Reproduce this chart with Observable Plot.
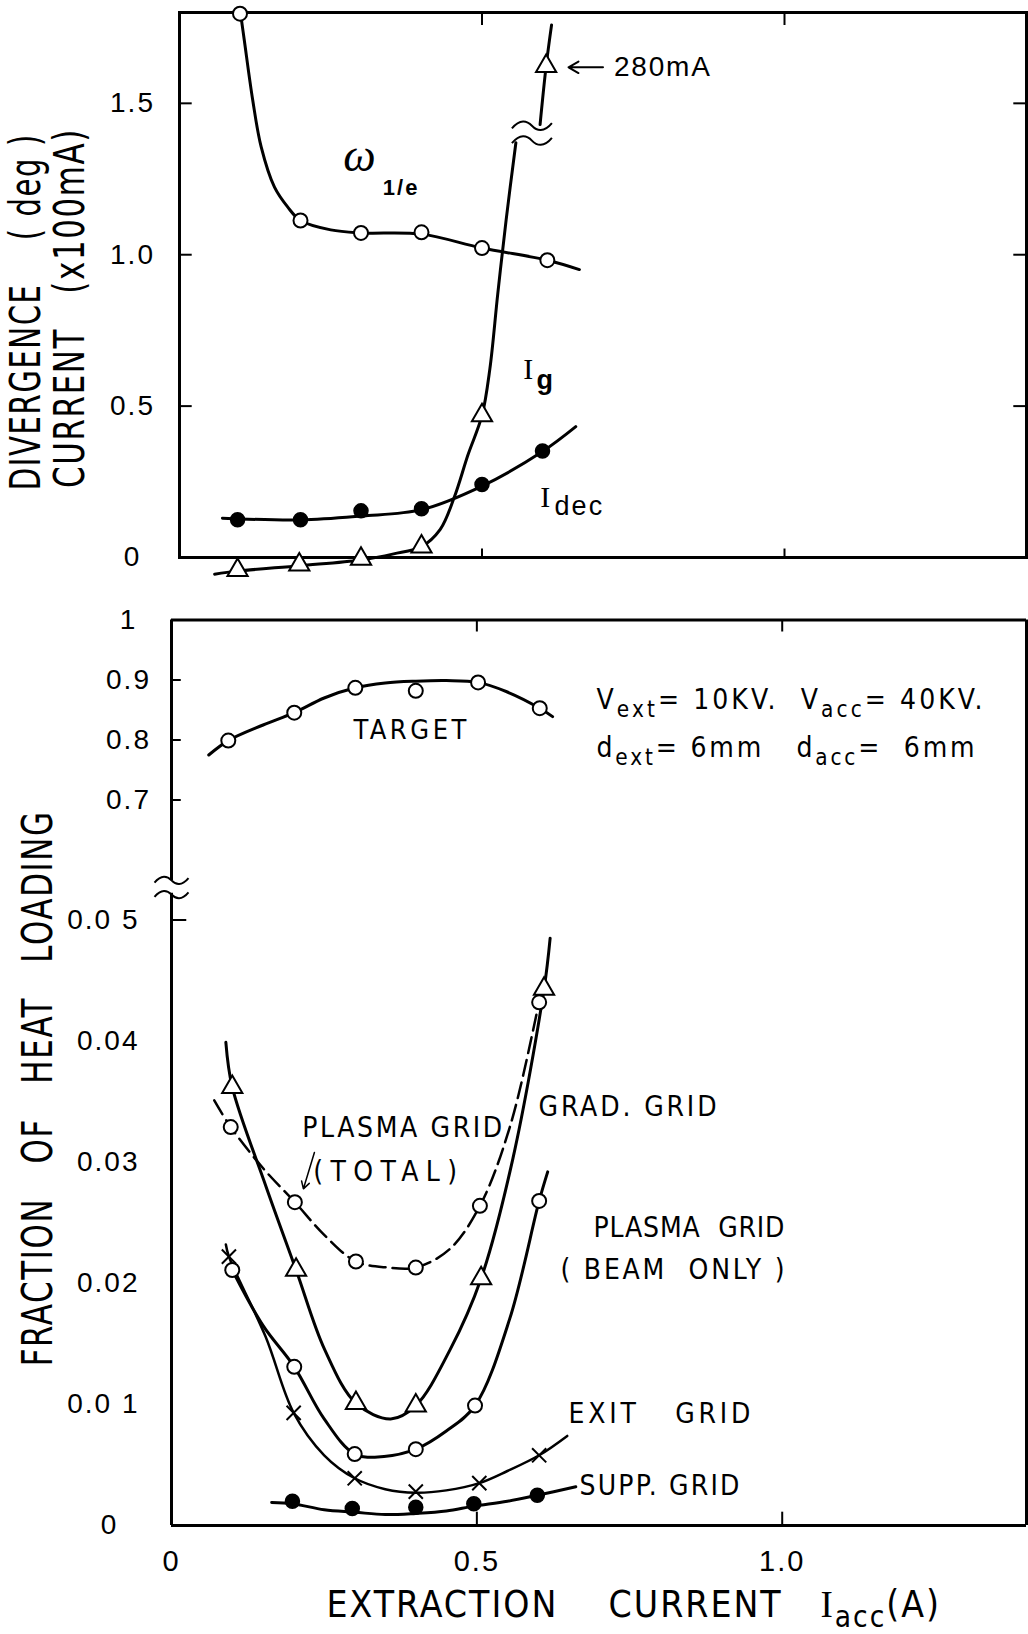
<!DOCTYPE html>
<html><head><meta charset="utf-8">
<script src="https://cdn.jsdelivr.net/npm/d3@7"></script>
<script src="https://cdn.jsdelivr.net/npm/@observablehq/plot@0.6"></script>
<style>
html,body{margin:0;padding:0;background:#fff;}
#wrap{position:relative;width:1028px;height:1634px;overflow:hidden;background:#fff;}
#top{position:absolute;left:0;top:0;}
#bot{position:absolute;left:0;top:600px;}
svg text{white-space:pre;}
</style></head><body>
<div id="wrap"><div id="top"></div><div id="bot"></div></div>
<script>
// ---------- axes / ticks ----------
const xTicks = [0, 0.5, 1.0];
const xTickLabels = ["0", "0.5", "1.0"];
const topYTicks = [0, 0.5, 1.0, 1.5];
const topYTickLabels = ["0", "0.5", "1.0", "1.5"];
const upperTicks = [1.0, 0.9, 0.8, 0.7];
const upperTickLabels = ["1", "0.9", "0.8", "0.7"];
const lowerTicks = [0.05, 0.04, 0.03, 0.02, 0.01];
const lowerTickLabels = ["0.0 5", "0.04", "0.03", "0.02", "0.0 1"];

// ---------- top panel: divergence / currents ----------
const omegaPts = [[0.10,1.796],[0.20,1.113],[0.30,1.072],[0.40,1.074],[0.50,1.022],[0.608,0.982]];
const omegaCurve = [[0.101,1.796],[0.107,1.71],[0.121,1.511],[0.135,1.356],[0.157,1.223],[0.179,1.157],[0.20,1.113],[0.25,1.082],[0.30,1.072],[0.40,1.068],[0.50,1.022],[0.608,0.982],[0.661,0.951]];
const igPts = [[0.096,-0.042],[0.198,-0.024],[0.30,-0.005],[0.40,0.036],[0.50,0.469],[0.606,1.623]];
const igCurveLow = [[0.058,-0.055],[0.096,-0.045],[0.198,-0.027],[0.30,-0.008],[0.354,0.012],[0.40,0.036],[0.431,0.093],[0.454,0.198],[0.477,0.34],[0.50,0.469],[0.513,0.623],[0.526,0.87],[0.54,1.117],[0.556,1.37]];
const igCurveHigh = [[0.596,1.43],[0.606,1.623],[0.615,1.759]];
const igBreak = [[0.5825,1.426],[0.5825,1.377]];
const idecPts = [[0.096,0.125],[0.20,0.125],[0.30,0.154],[0.40,0.161],[0.50,0.241],[0.60,0.352]];
const idecCurve = [[0.071,0.13],[0.20,0.124],[0.30,0.137],[0.40,0.158],[0.50,0.236],[0.60,0.35],[0.655,0.432]];

// ---------- bottom panel: fraction of heat loading ----------
const axisBreak = [[0,0.566],[0,0.0521]];
const targetPts = [[0.093,0.799],[0.201,0.8455],[0.301,0.887],[0.40,0.882],[0.502,0.896],[0.603,0.853]];
const targetCurve = [[0.061,0.775],[0.093,0.799],[0.15,0.825],[0.201,0.8455],[0.25,0.87],[0.301,0.887],[0.35,0.895],[0.40,0.898],[0.45,0.899],[0.502,0.896],[0.55,0.88],[0.603,0.853],[0.624,0.839]];
const gradPts = [[0.0995,0.0362],[0.204,0.0211],[0.302,0.0101],[0.40,0.0099],[0.507,0.0204],[0.61,0.0443]];
const gradCurve = [[0.089,0.0399],[0.0995,0.0362],[0.154,0.0281],[0.204,0.0211],[0.251,0.0145],[0.302,0.0101],[0.359,0.0088],[0.40,0.0099],[0.456,0.0145],[0.507,0.0204],[0.559,0.0303],[0.61,0.0443],[0.62,0.0485]];
const plasmaTotPts = [[0.097,0.0329],[0.202,0.0267],[0.302,0.0218],[0.40,0.0213],[0.505,0.0264],[0.602,0.0432]];
const plasmaTotCurve = [[0.07,0.0351],[0.097,0.0329],[0.15,0.0295],[0.202,0.0267],[0.25,0.024],[0.302,0.0218],[0.354,0.0213],[0.40,0.0213],[0.455,0.0228],[0.505,0.0264],[0.554,0.0329],[0.602,0.0432],[0.61,0.045]];
const plasmaBeamPts = [[0.0995,0.0211],[0.201,0.0131],[0.30,0.0059],[0.40,0.0063],[0.497,0.0099],[0.602,0.0268]];
const plasmaBeamCurve = [[0.0995,0.0211],[0.15,0.0165],[0.201,0.0131],[0.25,0.0088],[0.30,0.0059],[0.348,0.0057],[0.40,0.0063],[0.45,0.0078],[0.497,0.0099],[0.554,0.0171],[0.602,0.0268],[0.616,0.0292]];
const exitPts = [[0.094,0.0222],[0.20,0.0093],[0.30,0.0039],[0.40,0.0028],[0.504,0.0035],[0.602,0.0058]];
const exitCurve = [[0.089,0.0232],[0.094,0.0222],[0.154,0.0156],[0.20,0.0093],[0.25,0.0058],[0.30,0.0039],[0.35,0.003],[0.40,0.0027],[0.45,0.0029],[0.504,0.0035],[0.55,0.0045],[0.602,0.0058],[0.648,0.0074]];
const suppPts = [[0.198,0.0020],[0.296,0.0014],[0.40,0.0015],[0.495,0.0018],[0.599,0.0025]];
const suppCurve = [[0.164,0.0019],[0.198,0.0018],[0.25,0.0013],[0.30,0.0011],[0.35,0.0009],[0.40,0.001],[0.45,0.0012],[0.495,0.0016],[0.55,0.002],[0.599,0.0025],[0.662,0.0032]];

// ---------- fonts / text widths (styling) ----------
const FS = "'Liberation Sans', Arial, sans-serif";
const FN = "'Liberation Sans Narrow', 'DejaVu Sans Condensed', 'Liberation Sans', sans-serif";
const FSERIF = "'Liberation Serif', 'DejaVu Serif', serif";
const fitWidths = [
  ["DIVERGENCE    ( deg )", 357, "spacingAndGlyphs"],
  ["CURRENT   (x100mA)", 360, "spacingAndGlyphs"],
  ["FRACTION   OF   HEAT   LOADING", 556, "spacingAndGlyphs"],
  ["GRAD. GRID", 180, "spacing"],
  ["PLASMA GRID", 202, "spacing"],
  ["(TOTAL)", 146, "spacing"],
  ["PLASMA  GRID", 193, "spacing"],
  ["( BEAM  ONLY )", 226, "spacing"],
  ["EXIT   GRID", 184, "spacing"],
  ["SUPP. GRID", 162, "spacing"],
  ["TARGET", 115, "spacing"],
  ["V_{ext}= 10KV.  V_{acc}= 40KV.", 388, "spacing"],
  ["d_{ext}= 6mm   d_{acc}=  6mm", 380, "spacing"],
  ["280mA", 98, "spacing"]
];

// wavy break symbol (custom symbol for Plot.dot)
const tilde = {
  draw(context, size) {
    const w = Math.sqrt(size / Math.PI), h = w * 0.22;
    context.moveTo(-w, h * 0.6);
    context.bezierCurveTo(-w * 0.6, -h * 1.6, -w * 0.25, -h * 1.2, 0, 0);
    context.bezierCurveTo(w * 0.25, h * 1.2, w * 0.6, h * 1.6, w, -h * 0.6);
  }
};

const X = d => d[0], Y = d => d[1];
const lineOpts = {x: X, y: Y, curve: "catmull-rom", stroke: "black", strokeWidth: 3};
const openDot = {x: X, y: Y, r: 7, fill: "white", stroke: "black", strokeWidth: 2};
const triDot = {x: X, y: Y, r: 7.5, symbol: "triangle", fill: "white", stroke: "black", strokeWidth: 2};

// ---------- top chart ----------
const topChart = Plot.plot({
  width: 1028, height: 600,
  marginLeft: 179, marginRight: 2, marginTop: 12, marginBottom: 43,
  x: {domain: [0, 1.4], axis: null},
  y: {domain: [0, 1.8], axis: null},
  style: {background: "white", overflow: "visible", letterSpacing: "2px"},
  marks: [
    Plot.frame({stroke: "black", strokeWidth: 3}),
    Plot.ruleY(topYTicks.slice(1), {x1: 0, x2: 0.021, stroke: "black", strokeWidth: 2}),
    Plot.ruleY(topYTicks.slice(1), {x1: 1.379, x2: 1.4, stroke: "black", strokeWidth: 2}),
    Plot.ruleX(xTicks.slice(1), {y1: 1.8, y2: 1.757, stroke: "black", strokeWidth: 2}),
    Plot.ruleX(xTicks.slice(1), {y1: 0, y2: 0.028, stroke: "black", strokeWidth: 2}),
    Plot.text(topYTicks, {x: 0, y: d => d, text: (d, i) => topYTickLabels[i], dx: -47, fontSize: 28, fontFamily: FS}),
    Plot.text(["DIVERGENCE    ( deg )"], {x: -0.253, y: 0.812, rotate: -90, fontSize: 42, fontFamily: FN}),
    Plot.text(["CURRENT   (x100mA)"], {x: -0.18, y: 0.824, rotate: -90, fontSize: 42, fontFamily: FN}),
    Plot.line(omegaCurve, lineOpts),
    Plot.line(idecCurve, lineOpts),
    Plot.line(igCurveLow, lineOpts),
    Plot.line(igCurveHigh, lineOpts),
    Plot.dot(igBreak, {x: X, y: Y, r: 20, symbol: tilde, fill: "none", stroke: "black", strokeWidth: 2}),
    Plot.dot(omegaPts, openDot),
    Plot.dot(idecPts, {x: X, y: Y, r: 7, fill: "black", stroke: "black"}),
    Plot.dot(igPts, triDot),
    Plot.arrow([0], {x1: 0.70, y1: 1.619, x2: 0.643, y2: 1.619, stroke: "black", strokeWidth: 2, headLength: 10}),
    Plot.text(["280mA"], {x: 0.718, y: 1.619, textAnchor: "start", fontSize: 28, fontFamily: FS}),
    Plot.text(["ω"], {x: 0.299, y: 1.325, fontSize: 46, fontFamily: FSERIF, fontStyle: "italic"}),
    Plot.text(["1/e"], {x: 0.336, y: 1.222, textAnchor: "start", fontSize: 22, fontWeight: "bold", fontFamily: FS}),
    Plot.text(["I"], {x: 0.578, y: 0.62, fontSize: 30, fontFamily: FSERIF}),
    Plot.text(["g"], {x: 0.590, y: 0.585, textAnchor: "start", fontSize: 27, fontWeight: "bold", fontFamily: FS}),
    Plot.text(["I"], {x: 0.606, y: 0.197, fontSize: 30, fontFamily: FSERIF}),
    Plot.text(["dec"], {x: 0.620, y: 0.168, textAnchor: "start", fontSize: 27, fontFamily: FS})
  ]
});

// ---------- bottom chart (broken y axis) ----------
const botChart = Plot.plot({
  width: 1028, height: 1034,
  marginLeft: 171, marginRight: 2, marginTop: 19.5, marginBottom: 109,
  x: {domain: [0, 1.4], axis: null},
  y: {type: "linear", domain: [0, 0.0526, 0.5525, 1], range: [925, 288, 288, 19.5], axis: null},
  style: {background: "white", overflow: "visible", letterSpacing: "2px"},
  marks: [
    Plot.ruleY([1], {x1: 0, x2: 1.4, stroke: "black", strokeWidth: 3}),
    Plot.ruleY([0], {x1: 0, x2: 1.4, stroke: "black", strokeWidth: 3}),
    Plot.ruleX([1.4], {y1: 0, y2: 1, stroke: "black", strokeWidth: 3}),
    Plot.ruleX([0], {y1: 0, y2: 0.0522, stroke: "black", strokeWidth: 3}),
    Plot.ruleX([0], {y1: 0.566, y2: 1, stroke: "black", strokeWidth: 3}),
    Plot.dot(axisBreak, {x: X, y: Y, r: 17, symbol: tilde, fill: "none", stroke: "black", strokeWidth: 2}),
    Plot.ruleY(upperTicks.slice(1), {x1: 0, x2: 0.016, stroke: "black", strokeWidth: 2}),
    Plot.ruleY([0.05], {x1: 0, x2: 0.025, stroke: "black", strokeWidth: 2}),
    Plot.ruleX(xTicks.slice(1), {y1: 1, y2: 0.98, stroke: "black", strokeWidth: 2}),
    Plot.ruleX(xTicks.slice(1), {y1: 0, y2: 0.0011, stroke: "black", strokeWidth: 2}),
    Plot.text(upperTicks, {x: 0, y: d => d, text: (d, i) => upperTickLabels[i], dx: -43, fontSize: 28, fontFamily: FS}),
    Plot.text(lowerTicks, {x: 0, y: d => d, text: (d, i) => lowerTickLabels[i], dx: -32, textAnchor: "end", fontSize: 28, fontFamily: FS}),
    Plot.text([0], {x: 0, y: d => d, text: ["0"], dx: -62, fontSize: 28, fontFamily: FS}),
    Plot.text(xTicks, {x: d => d, y: 0, text: (d, i) => xTickLabels[i], dy: 36, fontSize: 29, fontFamily: FS}),
    Plot.text(["EXTRACTION    CURRENT   #{I}_{acc}(A)"], {x: 0.757, y: -0.0066, fontSize: 37, fontFamily: FN}),
    Plot.text(["FRACTION   OF   HEAT   LOADING"], {x: -0.218, y: 0.0361, rotate: -90, fontSize: 42, fontFamily: FN}),
    // curves
    Plot.line(targetCurve, lineOpts),
    Plot.line(gradCurve, lineOpts),
    Plot.line(plasmaTotCurve, {...lineOpts, strokeWidth: 2.5, strokeDasharray: "16,7"}),
    Plot.line(plasmaBeamCurve, lineOpts),
    Plot.line(exitCurve, {...lineOpts, strokeWidth: 2.5}),
    Plot.line(suppCurve, lineOpts),
    // markers
    Plot.dot(targetPts, openDot),
    Plot.dot(gradPts, triDot),
    Plot.dot(plasmaTotPts, openDot),
    Plot.dot(plasmaBeamPts, openDot),
    Plot.dot(exitPts, {x: X, y: Y, r: 6.5, symbol: "times", stroke: "black", strokeWidth: 2}),
    Plot.dot(suppPts, {x: X, y: Y, r: 7, fill: "black", stroke: "black"}),
    // annotations
    Plot.text(["TARGET"], {x: 0.392, y: 0.816, fontSize: 27, fontFamily: FN}),
    Plot.text(["V_{ext}= 10KV.  V_{acc}= 40KV."], {x: 0.696, y: 0.866, textAnchor: "start", fontSize: 28, fontFamily: FN}),
    Plot.text(["d_{ext}= 6mm   d_{acc}=  6mm"], {x: 0.696, y: 0.786, textAnchor: "start", fontSize: 28, fontFamily: FN}),
    Plot.text(["GRAD. GRID"], {x: 0.601, y: 0.03455, textAnchor: "start", fontSize: 28, fontFamily: FN}),
    Plot.text(["PLASMA GRID"], {x: 0.214, y: 0.0328, textAnchor: "start", fontSize: 28, fontFamily: FN}),
    Plot.text(["(TOTAL)"], {x: 0.232, y: 0.0292, textAnchor: "start", fontSize: 28, fontFamily: FN}),
    Plot.arrow([0], {x1: 0.234, y1: 0.0308, x2: 0.216, y2: 0.0278, stroke: "black", strokeWidth: 1.5, headLength: 8}),
    Plot.text(["PLASMA  GRID"], {x: 0.691, y: 0.02455, textAnchor: "start", fontSize: 28, fontFamily: FN}),
    Plot.text(["( BEAM  ONLY )"], {x: 0.637, y: 0.0211, textAnchor: "start", fontSize: 28, fontFamily: FN}),
    Plot.text(["EXIT   GRID"], {x: 0.650, y: 0.00917, textAnchor: "start", fontSize: 28, fontFamily: FN}),
    Plot.text(["SUPP. GRID"], {x: 0.668, y: 0.0033, textAnchor: "start", fontSize: 28, fontFamily: FN})
  ]
});

document.getElementById("top").appendChild(topChart);
document.getElementById("bot").appendChild(botChart);

// fit text lengths to the reference widths
function fit(svg) {
  d3.select(svg).selectAll("text").each(function() {
    const f = fitWidths.find(w => w[0] === this.textContent);
    if (f) { this.setAttribute("textLength", f[1]); this.setAttribute("lengthAdjust", f[2]); }
  });
}
// rich text: _{..} subscript, #{..} serif
function rich(svg) {
  d3.select(svg).selectAll("text").each(function() {
    const t = this.textContent;
    if (!/[_#]\{/.test(t)) return;
    const fs = parseFloat(getComputedStyle(this).fontSize) || 27;
    const sel = d3.select(this);
    while (this.firstChild) this.removeChild(this.firstChild);
    const re = /([_#])\{([^}]*)\}/g;
    let last = 0, m, cur = 0;
    const plain = s => { if (!s) return; const ts = sel.append("tspan").text(s); if (cur) ts.attr("dy", -cur); cur = 0; };
    while ((m = re.exec(t)) !== null) {
      plain(t.slice(last, m.index));
      const target = m[1] === "_" ? fs * 0.27 : 0;
      const ts = sel.append("tspan").text(m[2]);
      if (target - cur) ts.attr("dy", target - cur);
      cur = target;
      if (m[1] === "_") ts.attr("font-size", fs * 0.8);
      else ts.attr("font-family", FSERIF);
      last = re.lastIndex;
    }
    plain(t.slice(last));
  });
}
fit(topChart); fit(botChart);
rich(topChart); rich(botChart);
</script>
</body></html>
